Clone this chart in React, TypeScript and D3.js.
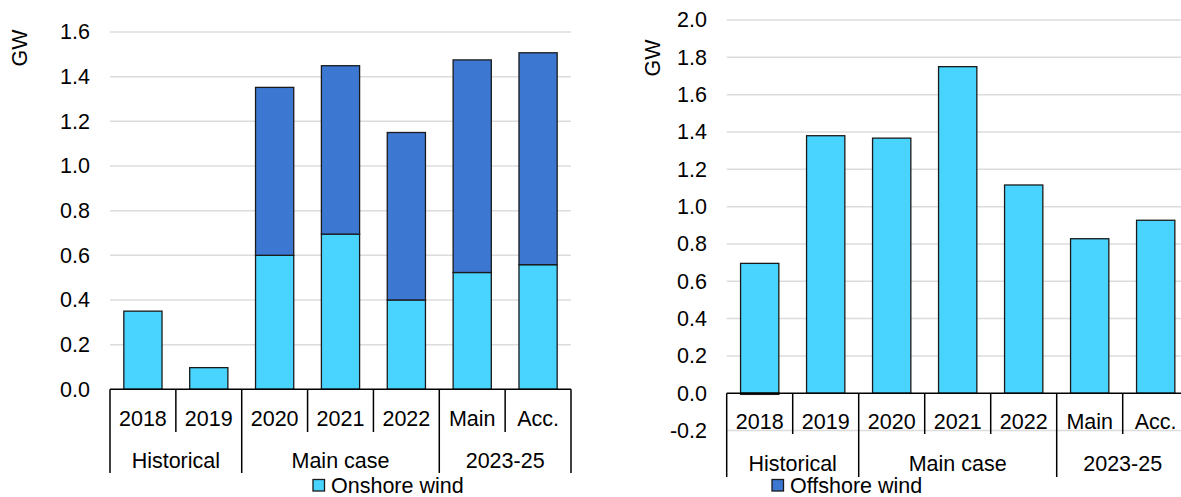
import React, { useEffect, useRef } from "react";
import * as d3 from "d3";

// categories / groups shared by both panels
const categories = ["2018", "2019", "2020", "2021", "2022", "Main", "Acc."];
const groupLabels = ["Historical", "Main case", "2023-25"];
const groupSpans = [2, 3, 2];

// left panel (GW)
const leftOnshore = [0.35, 0.097, 0.6, 0.695, 0.4, 0.523, 0.558];
const leftOffshore = [0, 0, 0.752, 0.754, 0.75, 0.952, 0.949];
const leftTicks = [0, 0.2, 0.4, 0.6, 0.8, 1.0, 1.2, 1.4, 1.6];

// right panel (GW)
const rightOnshore = [0.696, 1.38, 1.367, 1.75, 1.116, 0.828, 0.927];
const rightOffshore = [-0.006, 0, 0, 0, 0, 0, 0];
const rightTicks = [-0.2, 0, 0.2, 0.4, 0.6, 0.8, 1.0, 1.2, 1.4, 1.6, 1.8, 2.0];

const seriesNames = ["Onshore wind", "Offshore wind"];
const ONSHORE = "#48d4ff";
const OFFSHORE = "#3c78d2";
const FONT = "'Liberation Sans', Arial, sans-serif";
const FS = 21.5;

interface Panel {
  x0: number;
  x1: number;
  yRange: [number, number];
  domain: [number, number];
  ticks: number[];
  onshore: number[];
  offshore: number[];
  labelX: number;
  gwX: number;
  gwY: number;
  catY: number;
  grpY: number;
  catBottom: number;
  grpBottom: number;
}

const drawPanel = (svg: d3.Selection<SVGSVGElement, unknown, null, undefined>, p: Panel) => {
  const g = svg.append("g");
  const y = d3.scaleLinear().domain(p.domain).range(p.yRange);
  const cell = d3.scaleBand<string>().domain(categories).range([p.x0, p.x1]).padding(0);
  const bar = d3
    .scaleBand<string>()
    .domain(categories)
    .range([p.x0, p.x1])
    .paddingInner(0.42)
    .paddingOuter(0.21);

  // gridlines
  g.selectAll("line.grid")
    .data(p.ticks.filter((t) => t !== 0))
    .enter()
    .append("line")
    .attr("x1", p.x0)
    .attr("x2", p.x1)
    .attr("y1", (d) => y(d))
    .attr("y2", (d) => y(d))
    .attr("stroke", "#dcdcdc")
    .attr("stroke-width", 1.5);

  // y tick labels
  const yAxis = d3
    .axisLeft(y)
    .tickValues(p.ticks)
    .tickSize(0)
    .tickPadding(0)
    .tickFormat((d) => (+d).toFixed(1));
  const ax = g.append("g").attr("transform", `translate(${p.labelX},0)`).call(yAxis);
  ax.select(".domain").remove();
  ax.selectAll("text").attr("font-family", FONT).attr("font-size", FS).attr("fill", "#000");

  // GW label
  g.append("text")
    .attr("transform", `translate(${p.gwX},${p.gwY}) rotate(-90)`)
    .attr("text-anchor", "middle")
    .attr("dy", "0.35em")
    .attr("font-family", FONT)
    .attr("font-size", FS)
    .text("GW");

  // bars (stacked)
  const segs: { c: string; v0: number; v1: number; color: string }[] = [];
  categories.forEach((c, i) => {
    const on = p.onshore[i];
    const off = p.offshore[i];
    if (on !== 0) segs.push({ c, v0: 0, v1: on, color: ONSHORE });
    if (off > 0) segs.push({ c, v0: on, v1: on + off, color: OFFSHORE });
    if (off < 0) segs.push({ c, v0: off, v1: 0, color: OFFSHORE });
  });
  g.selectAll("rect.bar")
    .data(segs)
    .enter()
    .append("rect")
    .attr("x", (d) => bar(d.c)!)
    .attr("width", bar.bandwidth())
    .attr("y", (d) => y(d.v1))
    .attr("height", (d) => Math.max(0.5, y(d.v0) - y(d.v1)))
    .attr("fill", (d) => d.color)
    .attr("stroke", "#1a1a1a")
    .attr("stroke-width", 1.3);

  // x axis line
  const y0 = y(0);
  g.append("line")
    .attr("x1", p.x0)
    .attr("x2", p.x1)
    .attr("y1", y0)
    .attr("y2", y0)
    .attr("stroke", "#000")
    .attr("stroke-width", 1.5);

  // category labels and dividers
  g.selectAll("text.cat")
    .data(categories)
    .enter()
    .append("text")
    .attr("x", (d) => cell(d)! + cell.bandwidth() / 2)
    .attr("y", p.catY)
    .attr("dy", "0.35em")
    .attr("text-anchor", "middle")
    .attr("font-family", FONT)
    .attr("font-size", FS)
    .text((d) => d);

  const groupStarts: number[] = [];
  let acc = 0;
  groupSpans.forEach((s) => {
    groupStarts.push(acc);
    acc += s;
  });
  const edges = d3.range(categories.length + 1).map((i) => p.x0 + i * cell.step());
  edges.forEach((x, i) => {
    const isGroup = i === categories.length || groupStarts.includes(i);
    g.append("line")
      .attr("x1", x)
      .attr("x2", x)
      .attr("y1", y0)
      .attr("y2", isGroup ? p.grpBottom : p.catBottom)
      .attr("stroke", "#000")
      .attr("stroke-width", 1.5);
  });

  groupLabels.forEach((lbl, i) => {
    const a = edges[groupStarts[i]];
    const b = edges[groupStarts[i] + groupSpans[i]];
    g.append("text")
      .attr("x", (a + b) / 2)
      .attr("y", p.grpY)
      .attr("dy", "0.35em")
      .attr("text-anchor", "middle")
      .attr("font-family", FONT)
      .attr("font-size", FS)
      .text(lbl);
  });
};

const App: React.FC = () => {
  const svgRef = useRef<SVGSVGElement | null>(null);

  useEffect(() => {
    if (!svgRef.current) return;
    const svg = d3.select(svgRef.current);
    svg.selectAll("*").remove();

    drawPanel(svg, {
      x0: 110,
      x1: 571,
      yRange: [389.3, 32],
      domain: [0, 1.6],
      ticks: leftTicks,
      onshore: leftOnshore,
      offshore: leftOffshore,
      labelX: 90,
      gwX: 19,
      gwY: 48,
      catY: 418,
      grpY: 460,
      catBottom: 432,
      grpBottom: 473,
    });

    drawPanel(svg, {
      x0: 726.7,
      x1: 726.7 + 7 * 66,
      yRange: [430.6, 20],
      domain: [-0.2, 2.0],
      ticks: rightTicks,
      onshore: rightOnshore,
      offshore: rightOffshore,
      labelX: 707,
      gwX: 652,
      gwY: 58,
      catY: 421.5,
      grpY: 463.5,
      catBottom: 434,
      grpBottom: 477,
    });

    // legend (shared, split across the two panels)
    const legend = [
      { name: seriesNames[0], color: ONSHORE, x: 313 },
      { name: seriesNames[1], color: OFFSHORE, x: 772 },
    ];
    legend.forEach((l) => {
      svg
        .append("rect")
        .attr("x", l.x)
        .attr("y", 479.5)
        .attr("width", 11.5)
        .attr("height", 11.5)
        .attr("fill", l.color)
        .attr("stroke", "#1a1a1a")
        .attr("stroke-width", 1.3);
      svg
        .append("text")
        .attr("x", l.x + 18)
        .attr("y", 485)
        .attr("dy", "0.35em")
        .attr("font-family", FONT)
        .attr("font-size", FS)
        .text(l.name);
    });
  }, []);

  return (
    <svg
      ref={svgRef}
      width={1181}
      height={497}
      style={{ position: "absolute", left: 0, top: 0, background: "#fff" }}
    ></svg>
  );
};

export default App;
